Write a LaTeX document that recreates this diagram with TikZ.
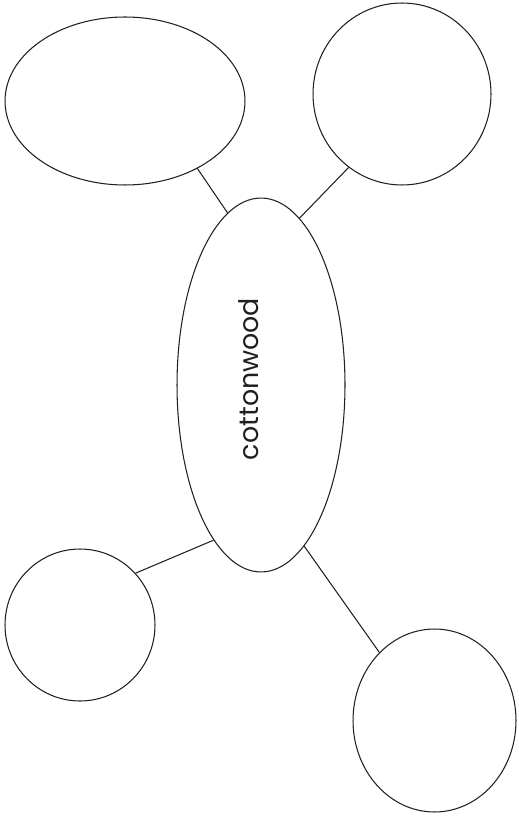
\documentclass[tikz,border=0pt]{standalone}
\usepackage{fontspec}
\setmainfont{Poppins}
\usetikzlibrary{shapes.geometric}
\definecolor{ink}{HTML}{231F20}
\tikzset{
  bubble/.style={ellipse, draw=ink, line width=0.6pt, inner sep=0pt, fill=white},
  link/.style={draw=ink, line width=0.6pt}
}
\begin{document}
\begin{tikzpicture}[x=0.02cm, y=-0.02cm]
  \useasboundingbox (0,0) rectangle (518,817);
  % central topic
  \node[bubble, minimum width=3.36cm, minimum height=7.48cm] (hub) at (261,385) {};
  \node[rotate=90, text=ink, font=\fontsize{15.3}{15.3}\selectfont] (word) at (249,379) {cottonwood};
  % surrounding bubbles
  \node[bubble, minimum width=4.80cm, minimum height=3.36cm] (tl) at (125,101) {};
  \node[bubble, minimum width=3.56cm, minimum height=3.64cm] (tr) at (402,94) {};
  \node[bubble, minimum width=3.00cm, minimum height=3.04cm] (bl) at (80,625) {};
  \node[bubble, minimum width=3.26cm, minimum height=3.66cm] (br) at (434.5,720.5) {};
  % connectors
  \draw[link] (tl.-43.3) -- (hub.101.6);
  \draw[link] (tr.-126) -- (hub.77.6);
  \draw[link] (bl.43.9) -- (hub.-107.4);
  \draw[link] (br.129.3) -- (hub.-75.9);
\end{tikzpicture}
\end{document}
